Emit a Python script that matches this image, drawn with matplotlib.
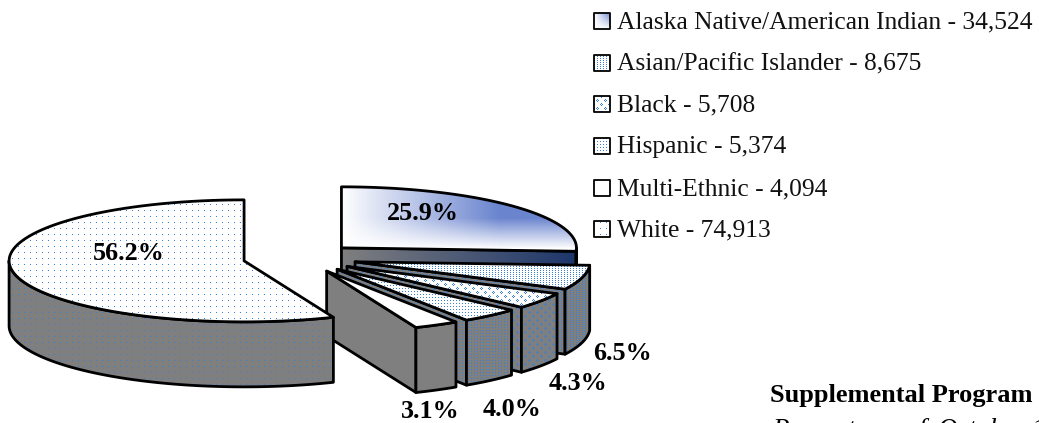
import numpy as np
import matplotlib
matplotlib.use("Agg")
import matplotlib.pyplot as plt
from matplotlib.patches import Polygon, Rectangle

# ---- data ----
groups = ["Alaska Native/American Indian", "Asian/Pacific Islander", "Black",
          "Hispanic", "Multi-Ethnic", "White"]
counts = [34524, 8675, 5708, 5374, 4094, 74913]
title_main = "Supplemental Program"
title_sub = ["Percentage", "of", "October", "1"]

# ---- layout (pixels of the 1039x423 picture) ----
W, H = 1039, 423
CX, CY = 300, 258
RX, RY = 235, 61
EXPLODE = 57
DEPTH = 65
GRAY = (0.5, 0.5, 0.5)
BLUE = (0.22, 0.50, 0.84)
label_pos = [(423, 214), (622, 354), (578, 383), (512, 409), (430, 412), (129, 253)]
legend_y = [20.7, 62.7, 104, 146, 188, 229]
SERIF = "Liberation Serif"

fig = plt.figure(figsize=(W / 100, H / 100), dpi=100)
ax = fig.add_axes([0, 0, 1, 1])
ax.set_xlim(0, W)
ax.set_ylim(H, 0)
ax.axis("off")

yy, xx = np.mgrid[0:H, 0:W]


def mask_for(name):
    if name == "White":
        return (xx % 6 == 0) & (yy % 6 == 0)
    if name == "Asian/Pacific Islander":
        return (xx % 3 == 0) & (yy % 2 == 0)
    if name == "Black":
        return (((xx + yy) % 8 == 0) | ((xx + yy) % 8 == 2)) & (((xx - yy) % 8 == 0) | ((xx - yy) % 8 == 2))
    if name == "Hispanic":
        return (xx % 3 == 0) & (yy % 3 == 0)
    return np.zeros_like(xx, dtype=bool)


def pattern_rgb(name, base):
    img = np.ones((H, W, 3)) * np.array(base)
    img[mask_for(name)] = BLUE
    return img


def fill_image(poly, img, z, lw=2.0):
    clip = Polygon(poly, closed=True, transform=ax.transData, facecolor="none", edgecolor="none")
    ax.add_patch(clip)
    im = ax.imshow(img, extent=(0, W, H, 0), interpolation="nearest", zorder=z, aspect="auto")
    im.set_clip_path(clip)
    ax.add_patch(Polygon(poly, closed=True, facecolor="none", edgecolor="black",
                         linewidth=lw, joinstyle="round", zorder=z + 0.1))


def alaska_top():
    u = np.clip((xx - 341) / 236, 0, 1)
    v = np.clip((248 - yy) / 61, 0, 1)
    t = np.minimum(1, u * 1.5) * np.minimum(1, v * 2.0)
    c = np.array([0.42, 0.52, 0.81])
    return (1 - t[..., None]) + t[..., None] * c


def alaska_wall():
    u = np.clip((xx - 341) / 236, 0, 1)[..., None]
    return (1 - u) * np.array(GRAY) + u * np.array([0.11, 0.21, 0.42])


def rim(a0, a1, cx, cy, n=80):
    a = np.radians(np.linspace(a0, a1, n))
    return np.column_stack([cx + RX * np.sin(a), cy - RY * np.cos(a)])


shares = np.array(counts, dtype=float) / sum(counts)
edges = np.concatenate([[0], np.cumsum(shares) * 360])

z = 2
for i, name in enumerate(groups):
    a0, a1 = edges[i], edges[i + 1]
    mid = np.radians((a0 + a1) / 2)
    cx = CX + EXPLODE * np.sin(mid)
    cy = CY - EXPLODE * RY / RX * np.cos(mid)
    arc = rim(a0, a1, cx, cy)
    apex = np.array([[cx, cy]])
    down = np.array([0, DEPTH])

    top_img = alaska_top() if i == 0 else pattern_rgb(name, (1, 1, 1))
    wall_img = alaska_wall() if i == 0 else pattern_rgb(name, GRAY)
    plain_wall = alaska_wall() if i == 0 else np.ones((H, W, 3)) * np.array(GRAY)

    # end cut face (faces the viewer for the slices on the right side)
    if a1 < 180:
        end = arc[-1:]
        face = np.vstack([apex, end, end + down, apex + down])
        fill_image(face, wall_img if 0 < i < 4 else plain_wall, z)
        z += 1
    # visible outer wall: part of the rim in front of the centre
    f0, f1 = max(a0, 90), min(a1, 270)
    if f1 > f0:
        front = rim(f0, f1, cx, cy)
        wall = np.vstack([front, (front + down)[::-1]])
        fill_image(wall, wall_img, z)
        z += 1
    top = np.vstack([apex, arc])
    fill_image(top, top_img, z)
    z += 1

for i, (x, y) in enumerate(label_pos):
    ax.text(x, y, f"{shares[i] * 100:.1f}%", family=SERIF, weight="bold", fontsize=18.8,
            ha="center", va="center", color="black", zorder=50)

# legend
for i, name in enumerate(groups):
    y = legend_y[i]
    if i == 0:
        t = np.clip((xx - 594) / 16, 0, 1) * np.clip((y + 8 - yy) / 16, 0, 1)
        c = np.array([0.42, 0.52, 0.81])
        img = (1 - t[..., None]) + t[..., None] * c
    else:
        img = pattern_rgb(name, (1, 1, 1))
    box = [(594, y - 8), (610, y - 8), (610, y + 8), (594, y + 8)]
    fill_image(box, img, 60, lw=1.3)
    ax.text(617, y + 7.5, f"{name} - {counts[i]:,}", family=SERIF, fontsize=18.4,
            ha="left", va="baseline", color="#111111", zorder=61)

ax.text(770, 402, title_main, family=SERIF, weight="bold", fontsize=19,
        ha="left", va="baseline", color="black", clip_on=True)
for word, x in zip(title_sub, [772, 905, 938, 1031]):
    ax.text(x, 437, word, family=SERIF, style="italic", fontsize=19.5,
            ha="left", va="baseline", color="black", clip_on=True)

ax.set_xlim(0, W)
ax.set_ylim(H, 0)
fig.savefig("out.png", dpi=100)
